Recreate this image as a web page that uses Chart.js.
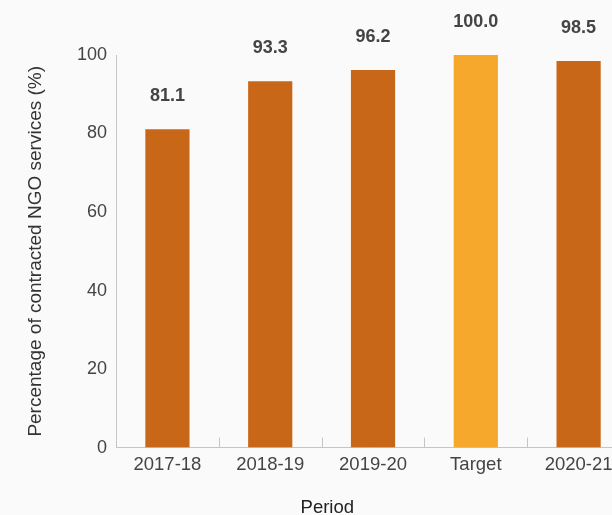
<!DOCTYPE html>
<html>
<head>
<meta charset="utf-8">
<script src="https://cdn.jsdelivr.net/npm/chart.js@4/dist/chart.umd.min.js"></script>
<style>
  html, body { margin: 0; padding: 0; background: #fafafa; overflow: hidden; }
  #wrap { width: 688px; height: 527px; }
</style>
</head>
<body>
<div id="wrap"><canvas id="chart"></canvas></div>
<script>
const periods = ['2017-18', '2018-19', '2019-20', 'Target', '2020-21']
const percentages = [81.1, 93.3, 96.2, 100.0, 98.5]
const barColors = ['#c96718', '#c96718', '#c96718', '#f6a82c', '#c96718']
const yTicks = [0, 20, 40, 60, 80, 100]

const FONT = "'Liberation Sans', Arial, Helvetica, sans-serif"

// 棒の上に値を表示
const valueLabels = {
  id: 'valueLabels',
  afterDatasetsDraw(chart) {
    const ctx = chart.ctx
    const meta = chart.getDatasetMeta(0)
    ctx.save()
    ctx.font = 'bold 18px ' + FONT
    ctx.fillStyle = '#444444'
    ctx.textAlign = 'center'
    ctx.textBaseline = 'middle'
    meta.data.forEach((bar, i) => {
      ctx.fillText(percentages[i].toFixed(1), bar.x, bar.y - 33)
    })
    ctx.restore()
  }
}

// x軸の区切り線（内向き）
const innerTicks = {
  id: 'innerTicks',
  afterDraw(chart) {
    const x = chart.scales.x
    const ctx = chart.ctx
    const step = x.width / periods.length
    ctx.save()
    ctx.strokeStyle = '#c8c4c4'
    ctx.lineWidth = 1
    for (let i = 0; i <= periods.length; i++) {
      const px = Math.round(x.left + i * step) + 0.5
      ctx.beginPath()
      ctx.moveTo(px, x.top)
      ctx.lineTo(px, x.top - 10)
      ctx.stroke()
    }
    ctx.restore()
  }
}

new Chart(document.getElementById('chart'), {
  type: 'bar',
  data: {
    labels: periods,
    datasets: [{
      data: percentages,
      backgroundColor: barColors,
      borderWidth: 0,
      barPercentage: 0.43,
      categoryPercentage: 1
    }]
  },
  options: {
    responsive: true,
    maintainAspectRatio: false,
    animation: false,
    layout: {
      padding: { top: 55, left: 24.6, right: 58, bottom: 0 }
    },
    plugins: {
      legend: { display: false },
      tooltip: { enabled: false },
      title: {
        display: true,
        position: 'bottom',
        text: 'Period',
        color: '#222222',
        font: { family: FONT, size: 18.5, weight: 'normal' },
        padding: { top: 15, bottom: 8 }
      }
    },
    scales: {
      x: {
        grid: { display: false, drawTicks: false },
        border: { display: true, color: '#c8c4c4', width: 1 },
        ticks: {
          color: '#444444',
          padding: 6,
          font: { family: FONT, size: 18.5 },
          maxRotation: 0
        }
      },
      y: {
        min: 0,
        max: 100,
        afterBuildTicks(scale) {
          scale.ticks = yTicks.map(v => ({ value: v }))
        },
        grid: { display: false, drawTicks: false },
        border: { display: true, color: '#c8c4c4', width: 1 },
        ticks: {
          color: '#444444',
          padding: 9,
          font: { family: FONT, size: 18 }
        },
        title: {
          display: true,
          text: 'Percentage of contracted NGO services (%)',
          color: '#333333',
          font: { family: FONT, size: 19 },
          padding: { top: 0, bottom: 20.6 }
        }
      }
    }
  },
  plugins: [valueLabels, innerTicks]
})
</script>
</body>
</html>
